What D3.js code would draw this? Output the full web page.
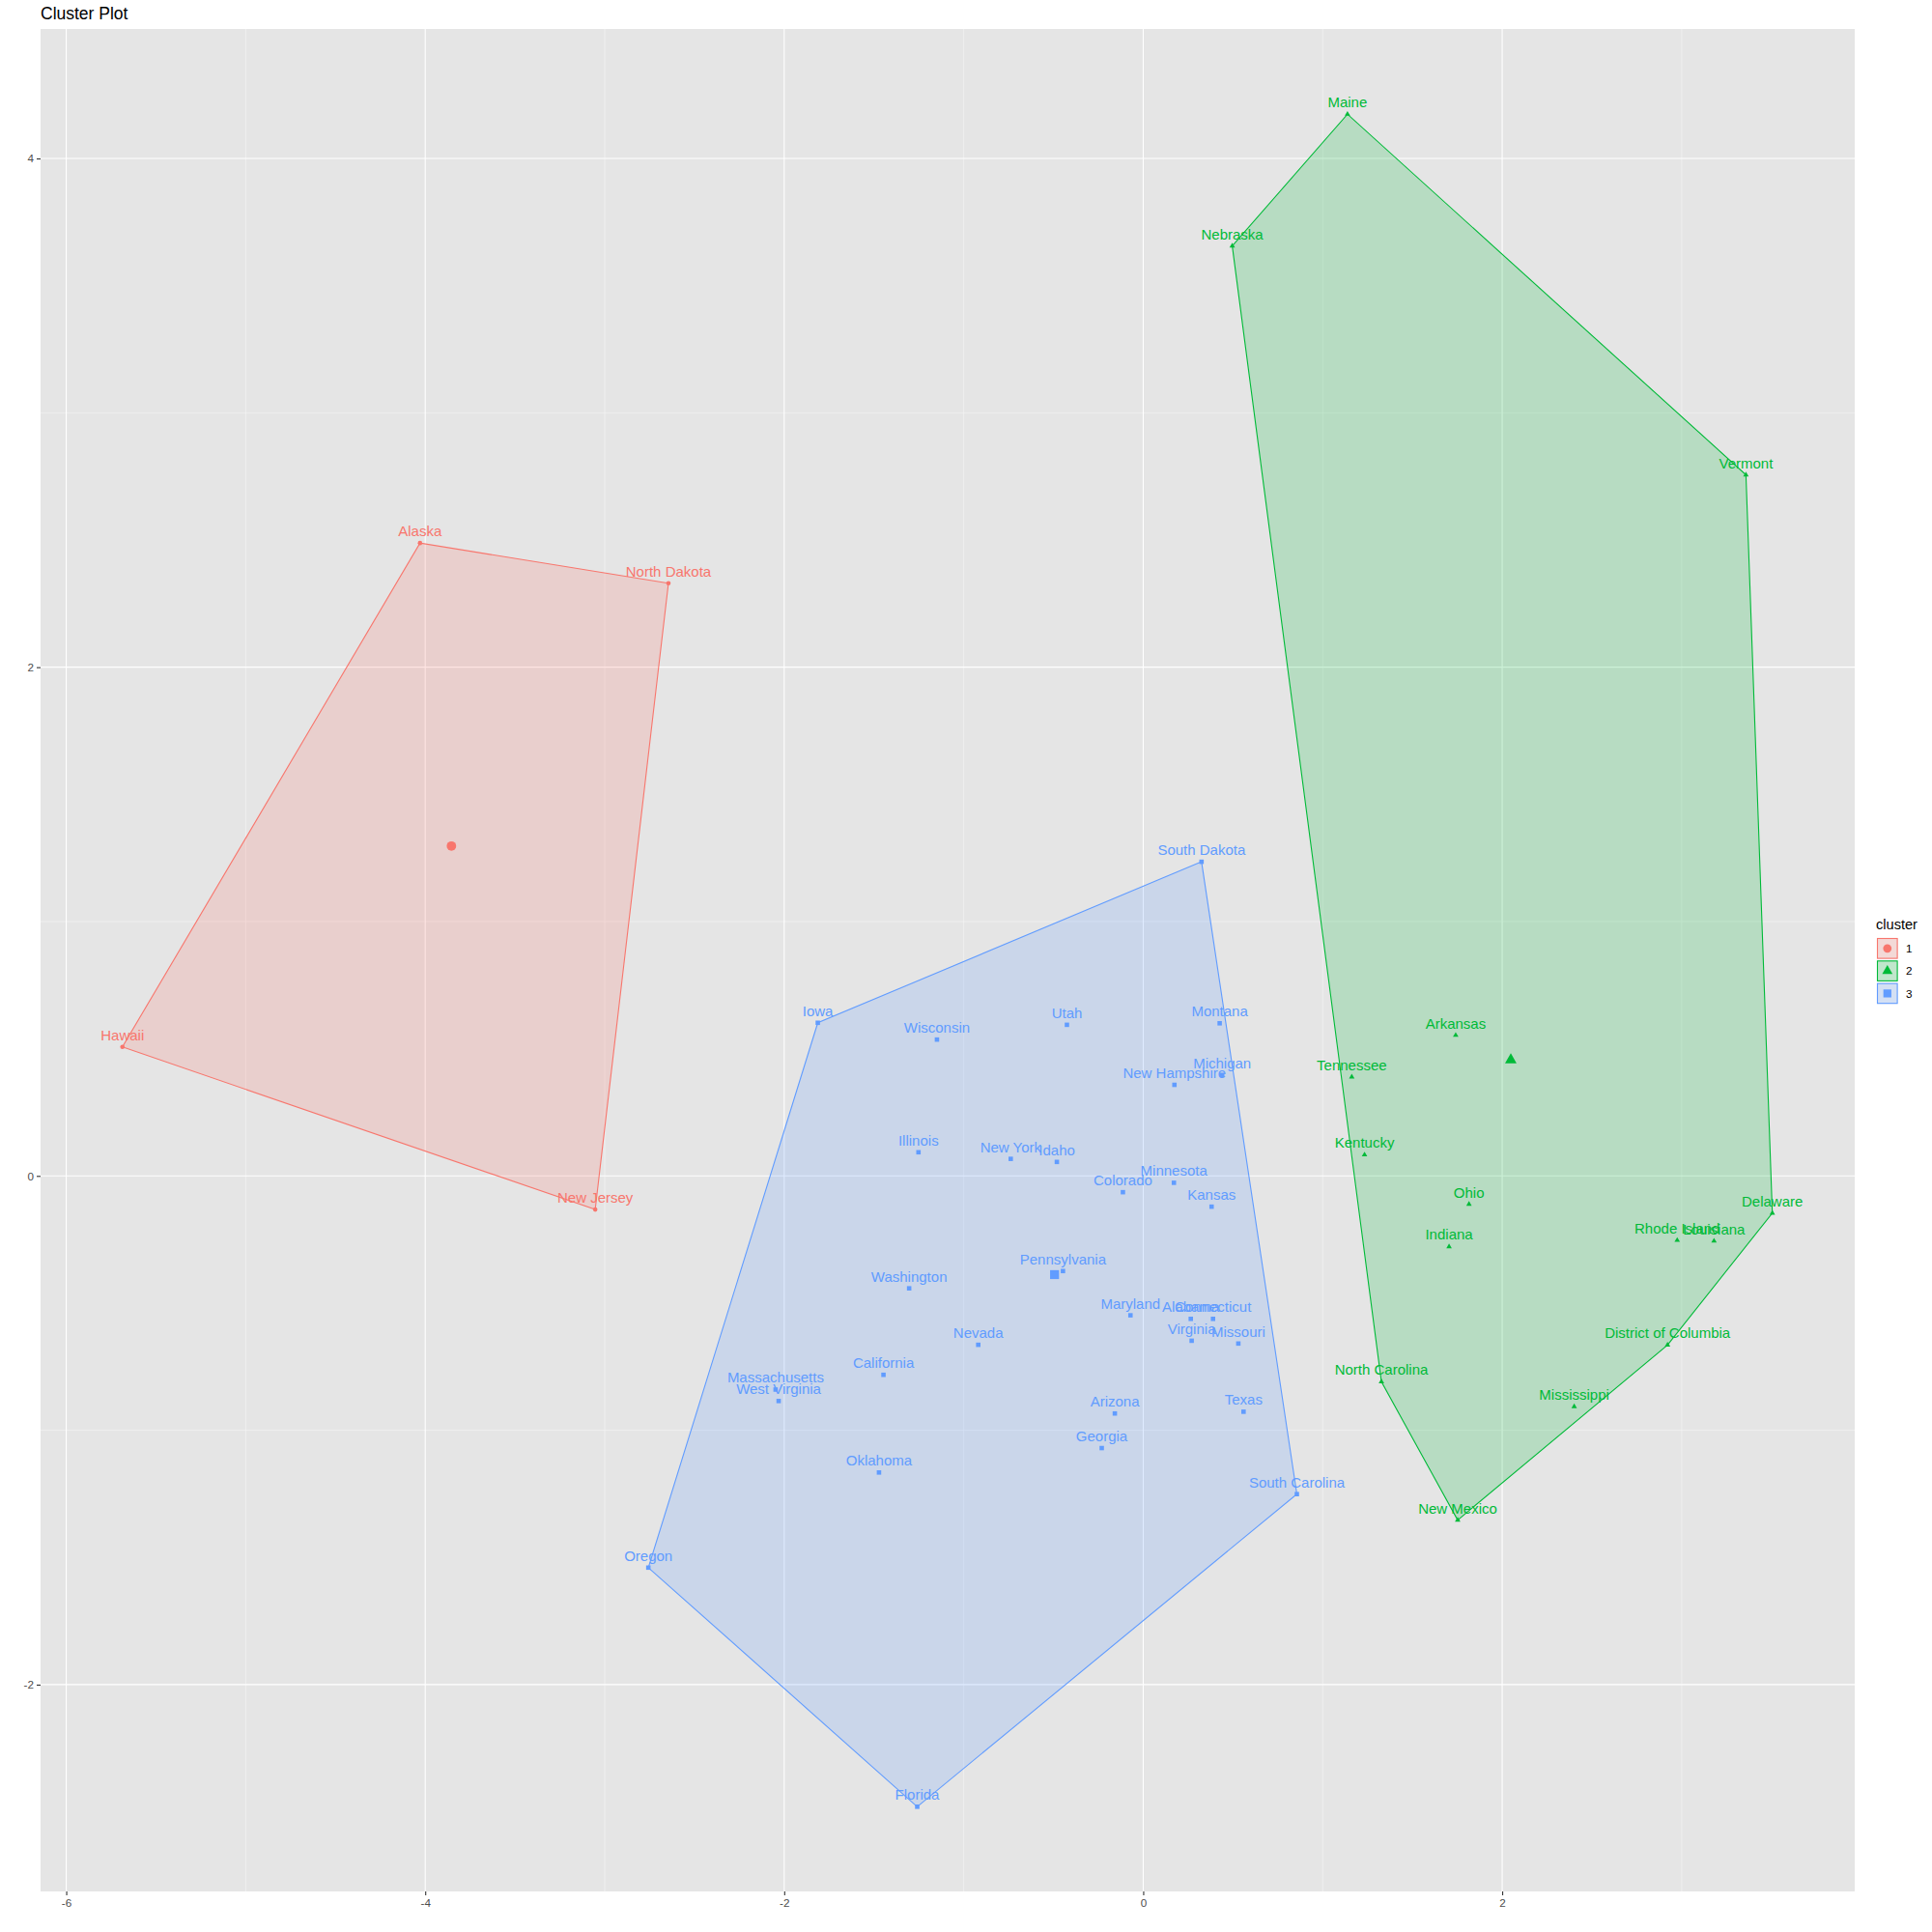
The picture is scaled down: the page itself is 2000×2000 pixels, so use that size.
<!DOCTYPE html>
<html>
<head>
<meta charset="utf-8">
<script src="https://cdn.jsdelivr.net/npm/d3@7"></script>
<style>
  html, body { margin: 0; padding: 0; background: #ffffff; }
  svg { display: block; }
  text { font-family: "Liberation Sans", Arial, Helvetica, sans-serif; }
</style>
</head>
<body>
<svg id="chart" width="2000" height="2000"></svg>
<script>
// ---------------- data ----------------
const states = ["Alaska","North Dakota","Hawaii","New Jersey",
  "Maine","Nebraska","Vermont","Arkansas","Tennessee","Kentucky","Ohio","Indiana","Delaware","Rhode Island","Louisiana","District of Columbia","North Carolina","Mississippi","New Mexico",
  "South Dakota","Iowa","Wisconsin","Utah","Montana","Michigan","New Hampshire","Illinois","New York","Idaho","Colorado","Minnesota","Kansas","Pennsylvania","Washington","Maryland","Alabama","Connecticut","Virginia","Missouri","Nevada","California","Massachusetts","West Virginia","Arizona","Texas","Georgia","Oklahoma","South Carolina","Oregon","Florida"];
const dim1 = [-4.029,-2.645,-5.687,-3.053,
  1.138,0.496,3.358,1.741,1.162,1.233,1.815,1.704,3.505,2.975,3.180,2.921,1.327,2.401,1.752,
  0.325,-1.813,-1.149,-0.425,0.426,0.440,0.174,-1.252,-0.738,-0.481,-0.113,0.171,0.381,-0.447,-1.304,-0.071,0.265,0.389,0.270,0.530,-0.919,-1.447,-2.048,-2.031,-0.158,0.559,-0.231,-1.472,0.856,-2.757,-1.259];
const dim2 = [2.488,2.330,0.507,-0.132,
  4.174,3.656,2.756,0.553,0.389,0.083,-0.111,-0.278,-0.146,-0.253,-0.256,-0.665,-0.809,-0.907,-1.353,
  1.235,0.602,0.536,0.594,0.600,0.397,0.358,0.093,0.067,0.055,-0.064,-0.027,-0.121,-0.374,-0.442,-0.548,-0.562,-0.562,-0.648,-0.659,-0.664,-0.782,-0.840,-0.885,-0.934,-0.927,-1.070,-1.166,-1.251,-1.540,-2.480];
const cluster = [1,1,1,1,
  2,2,2,2,2,2,2,2,2,2,2,2,2,2,2,
  3,3,3,3,3,3,3,3,3,3,3,3,3,3,3,3,3,3,3,3,3,3,3,3,3,3,3,3,3,3,3];
const clusterIds = [1,2,3];
const centroidX = [-3.854, 2.048, -0.494];
const centroidY = [1.297, 0.456, -0.388];
const xTicks = [-6,-4,-2,0,2];
const yTicks = [-2,0,2,4];
const xMinor = [-5,-3,-1,1,3];
const yMinor = [-1,1,3];
const titleText = "Cluster Plot";
const legendTitle = "cluster";

// ---------------- setup ----------------
const colors = {1:"#F8766D", 2:"#00BA38", 3:"#619CFF"};
const shapes = {1:d3.symbolCircle, 2:d3.symbolTriangle, 3:d3.symbolSquare};
const smallSize = {1:17, 2:14, 3:21};
const bigSize = {1:75, 2:62, 3:85};

const panel = {left:42, right:1920, top:30, bottom:1958};
const x = d3.scaleLinear().domain([-6.143, 3.964]).range([panel.left, panel.right]);
const y = d3.scaleLinear().domain([-2.813, 4.509]).range([panel.bottom, panel.top]);

const svg = d3.select("#chart");
svg.append("rect").attr("width",2000).attr("height",2000).attr("fill","#ffffff");

// panel
svg.append("rect")
  .attr("x",panel.left).attr("y",panel.top)
  .attr("width",panel.right-panel.left).attr("height",panel.bottom-panel.top)
  .attr("fill","#E5E5E5");

const grid = svg.append("g");
grid.selectAll("line.xmin").data(xMinor).join("line")
  .attr("x1",d=>x(d)).attr("x2",d=>x(d)).attr("y1",panel.top).attr("y2",panel.bottom)
  .attr("stroke","#F5F5F5").attr("stroke-width",0.6);
grid.selectAll("line.ymin").data(yMinor).join("line")
  .attr("y1",d=>y(d)).attr("y2",d=>y(d)).attr("x1",panel.left).attr("x2",panel.right)
  .attr("stroke","#F5F5F5").attr("stroke-width",0.6);
grid.selectAll("line.xmaj").data(xTicks).join("line")
  .attr("x1",d=>x(d)).attr("x2",d=>x(d)).attr("y1",panel.top).attr("y2",panel.bottom)
  .attr("stroke","#ffffff").attr("stroke-width",1.1);
grid.selectAll("line.ymaj").data(yTicks).join("line")
  .attr("y1",d=>y(d)).attr("y2",d=>y(d)).attr("x1",panel.left).attr("x2",panel.right)
  .attr("stroke","#ffffff").attr("stroke-width",1.1);

// points table
const pts = states.map((s,i)=>({name:s, x:dim1[i], y:dim2[i], c:cluster[i]}));

// hulls
const hullG = svg.append("g");
clusterIds.forEach(c=>{
  const p = pts.filter(d=>d.c===c).map(d=>[x(d.x), y(d.y)]);
  const h = d3.polygonHull(p);
  hullG.append("path")
    .attr("d", "M" + h.map(q=>q.join(",")).join("L") + "Z")
    .attr("fill", colors[c]).attr("fill-opacity",0.2)
    .attr("stroke", colors[c]).attr("stroke-width",1.1);
});

// points
const ptG = svg.append("g");
ptG.selectAll("path").data(pts).join("path")
  .attr("transform", d=>`translate(${x(d.x)},${y(d.y)})`)
  .attr("d", d=>d3.symbol().type(shapes[d.c]).size(smallSize[d.c])())
  .attr("fill", d=>colors[d.c]);

// labels
const lblG = svg.append("g");
lblG.selectAll("text").data(pts).join("text")
  .attr("x", d=>x(d.x)).attr("y", d=>y(d.y)-7)
  .attr("text-anchor","middle")
  .attr("font-size",15)
  .attr("fill", d=>colors[d.c])
  .text(d=>d.name);

// centroids
const cenG = svg.append("g");
clusterIds.forEach((c,i)=>{
  cenG.append("path")
    .attr("transform", `translate(${x(centroidX[i])},${y(centroidY[i])})`)
    .attr("d", d3.symbol().type(shapes[c]).size(bigSize[c])())
    .attr("fill", colors[c]);
});

// axes
const xAxis = svg.append("g").attr("transform",`translate(0,${panel.bottom})`)
  .call(d3.axisBottom(x).tickValues(xTicks).tickSize(4).tickPadding(4).tickFormat(d3.format("d")));
const yAxis = svg.append("g").attr("transform",`translate(${panel.left},0)`)
  .call(d3.axisLeft(y).tickValues(yTicks).tickSize(4).tickPadding(3).tickFormat(d3.format("d")));
[xAxis,yAxis].forEach(a=>{
  a.select(".domain").remove();
  a.selectAll(".tick line").attr("stroke","#333333").attr("stroke-width",1.1);
  a.selectAll(".tick text").attr("fill","#4D4D4D").attr("font-size",11.7)
    .attr("font-family","'Liberation Sans', Arial, sans-serif");
});
xAxis.selectAll(".tick text").text(d=>String(d));
yAxis.selectAll(".tick text").text(d=>String(d));

// title
svg.append("text").attr("x",42).attr("y",20).attr("font-size",17.5).attr("fill","#000000").text(titleText);

// legend
const lg = svg.append("g");
lg.append("text").attr("x",1942).attr("y",962).attr("font-size",14.6).attr("fill","#000000").text(legendTitle);
clusterIds.forEach((c,i)=>{
  const ky = 971 + i*23.3;
  lg.append("rect").attr("x",1943).attr("y",ky).attr("width",21.6).attr("height",21.6).attr("fill","#F2F2F2");
  lg.append("rect").attr("x",1943.5).attr("y",ky+0.5).attr("width",20.6).attr("height",20.6)
    .attr("fill",colors[c]).attr("fill-opacity",0.2).attr("stroke",colors[c]).attr("stroke-width",1.1);
  lg.append("path").attr("transform",`translate(${1953.8},${ky+10.8})`)
    .attr("d", d3.symbol().type(shapes[c]).size(bigSize[c]*0.8)())
    .attr("fill",colors[c]);
  lg.append("text").attr("x",1973).attr("y",ky+15).attr("font-size",11.7).attr("fill","#000000").text(String(c));
});
</script>
</body>
</html>
